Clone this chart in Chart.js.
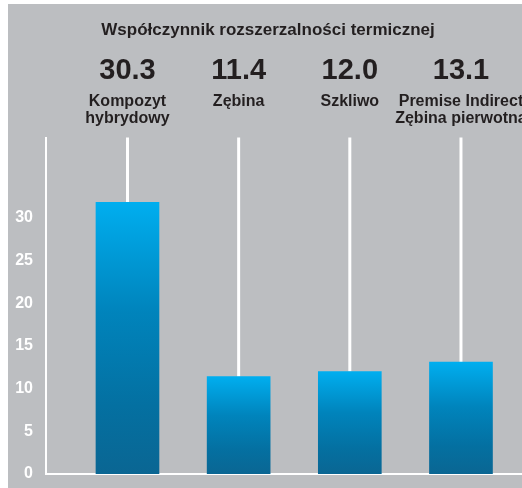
<!DOCTYPE html>
<html>
<head>
<meta charset="utf-8">
<script src="https://cdn.jsdelivr.net/npm/chart.js@4"></script>
<style>
  html, body { margin: 0; padding: 0; background: #ffffff; }
  #wrap { position: relative; width: 522px; height: 488px; }
</style>
</head>
<body>
<div id="wrap"><canvas id="c" width="522" height="488"></canvas></div>
<script>
// ---- data ----
const chartTitle = 'Współczynnik rozszerzalności termicznej';
const categories = [['Kompozyt', 'hybrydowy'], ['Zębina'], ['Szkliwo'], ['Premise Indirect', 'Zębina pierwotna']];
const valueLabels = ['30.3', '11.4', '12.0', '13.1'];
const barHeights = [31.8, 11.4, 12.0, 13.1];
const yTickValues = [0, 5, 10, 15, 20, 25, 30];

// ---- styles ----
const BG_GRAY = '#bcbec1';
const TEXT_DARK = '#231f20';
const FONT_FAMILY = '"Liberation Sans", Arial, sans-serif';
const TICK_FAMILY = '"Liberation Sans Narrow", "Liberation Sans", sans-serif';

const decorPlugin = {
  id: 'decor',
  beforeDraw(chart) {
    const ctx = chart.ctx;
    ctx.save();
    ctx.fillStyle = '#ffffff';
    ctx.fillRect(0, 0, chart.width, chart.height);
    ctx.fillStyle = BG_GRAY;
    ctx.fillRect(8, 4, chart.width - 8, chart.height - 4);
    ctx.restore();
  },
  beforeDatasetsDraw(chart) {
    const ctx = chart.ctx;
    const meta = chart.getDatasetMeta(0);
    ctx.save();
    ctx.strokeStyle = '#ffffff';
    ctx.lineWidth = 3;
    meta.data.forEach((bar) => {
      ctx.beginPath();
      ctx.moveTo(bar.x, chart.chartArea.top);
      ctx.lineTo(bar.x, bar.y);
      ctx.stroke();
    });
    ctx.restore();
  },
  afterDraw(chart) {
    const ctx = chart.ctx;
    const meta = chart.getDatasetMeta(0);
    ctx.save();
    ctx.fillStyle = TEXT_DARK;
    ctx.textAlign = 'center';
    ctx.textBaseline = 'alphabetic';
    ctx.font = 'bold 17px ' + FONT_FAMILY;
    ctx.fillText(chartTitle, 268, 35);
    meta.data.forEach((bar, i) => {
      ctx.font = 'bold 29px ' + FONT_FAMILY;
      ctx.fillText(valueLabels[i], bar.x, 79);
      ctx.font = 'bold 16px ' + FONT_FAMILY;
      categories[i].forEach((line, j) => {
        ctx.fillText(line, bar.x, 105.7 + j * 17);
      });
    });
    ctx.restore();
  }
};

const ctx = document.getElementById('c').getContext('2d');
new Chart(ctx, {
  type: 'bar',
  data: {
    datasets: [{
      data: barHeights.map((v, i) => ({ x: i, y: v })),
      barThickness: 63,
      borderWidth: 0,
      backgroundColor: (context) => {
        const chart = context.chart;
        const area = chart.chartArea;
        if (!area || context.type !== 'data') return '#0080b8';
        const y = chart.scales.y;
        const top = y.getPixelForValue(context.raw.y);
        const bottom = y.getPixelForValue(0);
        const g = chart.ctx.createLinearGradient(0, top, 0, bottom);
        g.addColorStop(0, '#00aeef');
        g.addColorStop(0.4, '#0084bc');
        g.addColorStop(0.75, '#0470a1');
        g.addColorStop(1, '#0a6693');
        return g;
      }
    }]
  },
  options: {
    responsive: false,
    animation: false,
    devicePixelRatio: 1,
    layout: { padding: { top: 137.5, bottom: 14, left: 0, right: 0 } },
    plugins: { legend: { display: false }, title: { display: false }, tooltip: { enabled: false } },
    scales: {
      x: {
        type: 'linear',
        offset: false,
        min: -0.733,
        max: 3.549,
        grid: { display: false, drawTicks: false, offset: false },
        border: { display: true, color: '#ffffff', width: 2 },
        ticks: { display: false },
        afterFit: (s) => { s.height = 0; s.paddingLeft = 0; s.paddingRight = 0; }
      },
      y: {
        min: 0,
        max: 39.4,
        grid: { display: false, drawTicks: false },
        border: { display: true, color: '#ffffff', width: 2 },
        afterBuildTicks: (s) => { s.ticks = yTickValues.map((v) => ({ value: v })); },
        afterFit: (s) => { s.width = 46; s.paddingTop = 0; s.paddingBottom = 0; },
        ticks: {
          color: '#ffffff',
          padding: 13,
          font: { family: TICK_FAMILY, weight: 'bold', size: 16 },
          callback: (v) => String(v)
        }
      }
    }
  },
  plugins: [decorPlugin]
});
</script>
</body>
</html>
